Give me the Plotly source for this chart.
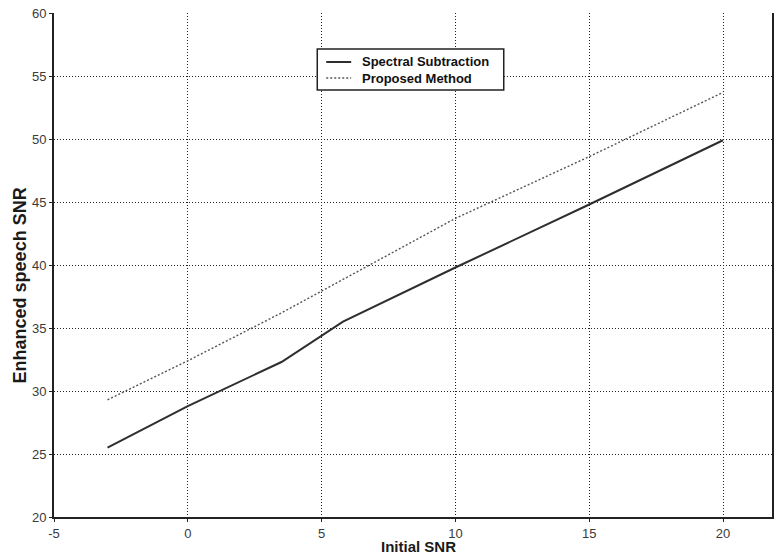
import plotly.graph_objects as go

# Initial SNR (dB) at each measured point
snr_ss = [-3, 0, 3.5, 5.8, 10, 15, 20]
snr_pm = [-3, 0, 3.5, 6, 10, 15, 20]

# Enhanced speech SNR (dB)
enh_ss = [25.5, 28.8, 32.3, 35.5, 39.8, 44.8, 49.9]
enh_pm = [29.3, 32.4, 36.2, 39.1, 43.7, 48.6, 53.7]

series_names = ["Spectral Subtraction", "Proposed Method"]

x_ticks = [-5, 0, 5, 10, 15, 20]
x_ticktext = ["-5", "0", "5", "10", "15", "20"]
y_ticks = [20, 25, 30, 35, 40, 45, 50, 55, 60]

FONT = "Arial, Liberation Sans, sans-serif"
styles = [
    dict(color="#2e2e2e", width=2),
    dict(color="#555555", width=1.4, dash="2px,2px"),
]

fig = go.Figure()
fig.add_trace(go.Scatter(x=snr_ss, y=enh_ss, mode="lines", name=series_names[0],
                         line=styles[0], showlegend=False))
fig.add_trace(go.Scatter(x=snr_pm, y=enh_pm, mode="lines", name=series_names[1],
                         line=styles[1], showlegend=False))

axis_common = dict(
    showline=True, linecolor="#222222", linewidth=2,
    showgrid=True, gridcolor="#222222", gridwidth=1, griddash="1px,2px",
    zeroline=False, ticks="outside", ticklen=3, tickcolor="#222222",
    tickfont=dict(family=FONT, size=13, color="#3a3a3a"),
)

fig.update_xaxes(range=[-5, 21.83], tickvals=x_ticks, ticktext=x_ticktext, **axis_common)
fig.update_yaxes(range=[20, 60], tickvals=y_ticks, mirror=True, **axis_common)

fig.add_annotation(
    text="<b>Initial SNR</b>", xref="paper", yref="paper", x=0.508, y=-0.058,
    xanchor="center", yanchor="middle", showarrow=False,
    font=dict(family=FONT, size=15, color="#1a1a1a"),
)
fig.add_annotation(
    text="<b>Enhanced speech SNR</b>", xref="paper", yref="paper", x=-0.047, y=0.46,
    xanchor="center", yanchor="middle", textangle=-90, showarrow=False,
    font=dict(family=FONT, size=18, color="#1a1a1a"),
)

# Legend box drawn in paper coordinates (plot area spans 720 x 504 px)
PW, PH = 720.0, 504.0
def px(xp):
    return (xp - 54) / PW
def py(yp):
    return (517 - yp) / PH

fig.add_shape(type="rect", xref="paper", yref="paper",
              x0=px(318), x1=px(505), y0=py(90), y1=py(49),
              line=dict(color="#222222", width=1.5), fillcolor="white", layer="above")
for i, (name, st) in enumerate(zip(series_names, styles)):
    yrow = 62 + 16 * i
    fig.add_shape(type="line", xref="paper", yref="paper",
                  x0=px(327), x1=px(352), y0=py(yrow), y1=py(yrow),
                  line=dict(color=st["color"], width=st["width"], dash=st.get("dash", "solid")),
                  layer="above")
    fig.add_annotation(text=f"<b>{name}</b>", xref="paper", yref="paper",
                       x=px(361), y=py(yrow), xanchor="left", yanchor="middle",
                       showarrow=False,
                       font=dict(family=FONT, size=13, color="#111111"))

fig.update_layout(
    width=774, height=556,
    margin=dict(l=54, r=0, t=13, b=39),
    paper_bgcolor="white", plot_bgcolor="white",
    showlegend=False,
)

fig.write_html("out.html")
